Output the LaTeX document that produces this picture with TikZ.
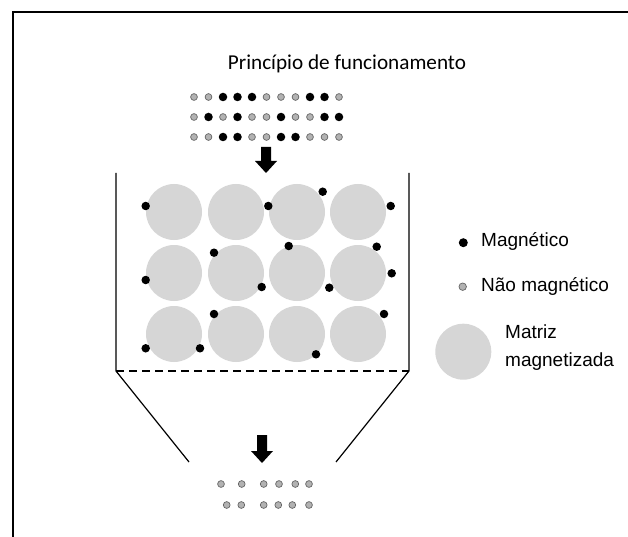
\documentclass[tikz,border=0pt]{standalone}
\usepackage{fontspec}
\setmainfont{Liberation Sans}
\newfontfamily\titlefont{Carlito}
\begin{document}
\begin{tikzpicture}[x=1pt,y=-1pt,
  bdot/.style={circle,fill=black,inner sep=0pt,minimum size=8.5pt},
  gdot/.style={circle,fill=black!30,draw=black!60,line width=0.7pt,inner sep=0pt,minimum size=6.8pt},
  mcirc/.style={circle,fill=black!16,inner sep=0pt,minimum size=56pt},
  wall/.style={line width=1.2pt},
  bigarrow/.style={fill=black},
  lbl/.style={anchor=base west,inner sep=0pt,font=\fontsize{19}{28.5}\selectfont}]
\useasboundingbox (0,0) rectangle (628,537);
\draw[line width=2pt] (13,537) -- (13,12) -- (628,12);

% title
\node[anchor=base,inner sep=0pt,font=\titlefont\fontsize{21.2}{25}\selectfont] (title) at (347,70) {Princípio de funcionamento};

% input particles
\foreach \t [count=\i from 0] in {0,0,1,1,1,0,0,0,1,1,0}{
  \ifnum\t=1 \node[bdot] (a\i) at (194+14.5*\i,97) {};
  \else \node[gdot] (a\i) at (194+14.5*\i,97) {}; \fi}
\foreach \t [count=\i from 0] in {0,1,0,1,0,0,1,0,0,1,1}{
  \ifnum\t=1 \node[bdot] (b\i) at (194+14.5*\i,117) {};
  \else \node[gdot] (b\i) at (194+14.5*\i,117) {}; \fi}
\foreach \t [count=\i from 0] in {0,0,1,1,0,0,1,1,0,0,0}{
  \ifnum\t=1 \node[bdot] (c\i) at (194+14.5*\i,137) {};
  \else \node[gdot] (c\i) at (194+14.5*\i,137) {}; \fi}

% top arrow
\coordinate (ta) at (266,147);
\fill[bigarrow] (ta) ++(-5,0) -- ++(10,0) -- ++(0,14) -- ++(6,0) -- ++(-11,12) -- ++(-11,-12) -- ++(6,0) -- cycle;

% container
\coordinate (tl) at (116,173);
\coordinate (bl) at (116,371);
\coordinate (tr) at (409,173);
\coordinate (br) at (409,371);
\coordinate (fl) at (189,462);
\coordinate (fr) at (336,462);
\draw[wall] (tl) -- (bl) -- (fl);
\draw[wall] (tr) -- (br) -- (fr);
\draw[wall,dash pattern=on 8pt off 5pt] (bl) -- (br);

% matrix spheres
\foreach \r/\y in {1/212,2/273,3/334}{
  \foreach \c/\x in {1/174,2/236,3/297,4/358}{
    \node[mcirc] (m\r\c) at (\x,\y) {};
  }}

% captured magnetic particles
\foreach \x/\y [count=\k] in {145.7/206,268.3/206,322.7/191.7,390.7/206,
  214/252.7,288.7/246,376.7/246.7,145.7/280,261.7/287,329.3/287.7,391.7/273.3,
  214/314,384/314,145.7/348.3,200/348.3,316/354.3}{
  \node[bdot] (p\k) at (\x,\y) {};
}

% bottom arrow
\coordinate (ba) at (262,435);
\fill[bigarrow] (ba) ++(-5,0) -- ++(10,0) -- ++(0,16) -- ++(6,0) -- ++(-11,12) -- ++(-11,-12) -- ++(6,0) -- cycle;

% output particles
\foreach \x [count=\k] in {221,241.7,263.7,279,295.3,309}{
  \node[gdot] (o\k) at (\x,484) {};
}
\foreach \x [count=\k] in {226.7,241.3,263.7,278.3,292.3,309}{
  \node[gdot] (q\k) at (\x,505) {};
}

% legend
\node[bdot,minimum size=9pt] (lb) at (463.3,242.7) {};
\node[lbl] (lbt) at (481,246) {Magnético};
\node[gdot,minimum size=7.5pt] (lg) at (462.7,286.7) {};
\node[lbl] (lgt) at (481,291) {Não magnético};
\node[mcirc] (lm) at (463.3,351.7) {};
\node[lbl] (lmt1) at (505,338) {Matriz};
\node[lbl] (lmt2) at (505,366.7) {magnetizada};
\end{tikzpicture}
\end{document}
